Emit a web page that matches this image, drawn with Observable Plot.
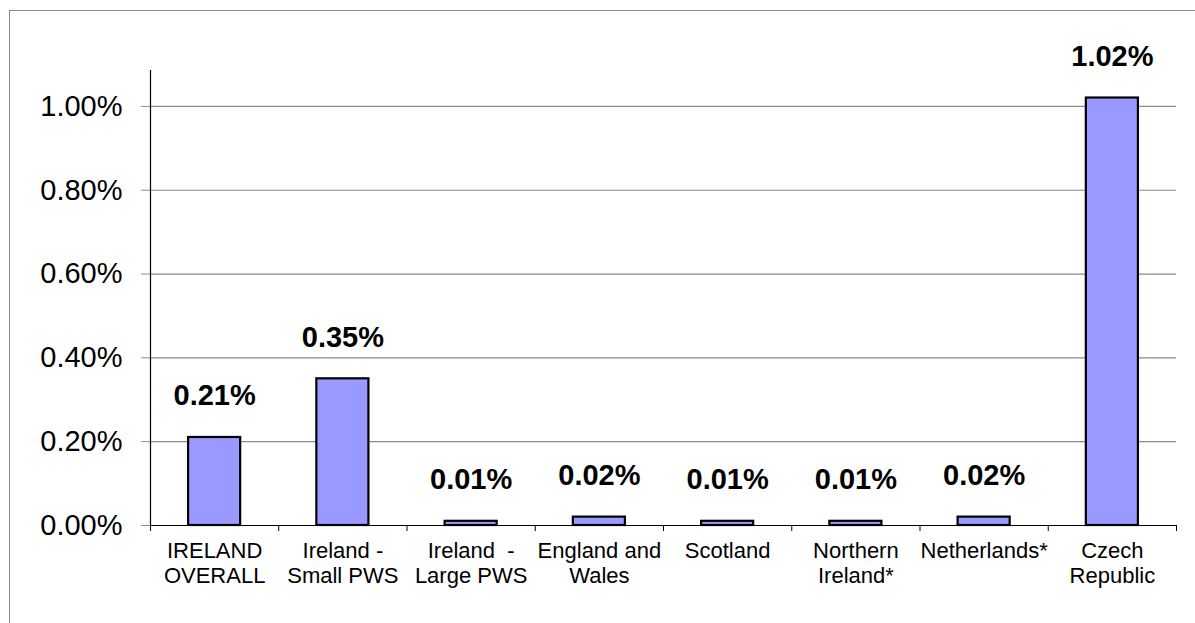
<!DOCTYPE html>
<html>
<head>
<meta charset="utf-8">
<script src="https://cdn.jsdelivr.net/npm/d3@7"></script>
<script src="https://cdn.jsdelivr.net/npm/@observablehq/plot@0.6"></script>
<style>
  html, body { margin: 0; padding: 0; background: #fff; overflow: hidden; }
  #wrap { position: relative; width: 1195px; height: 623px; }
  #border { position: absolute; left: 9px; top: 10px; width: 1200px; height: 640px; border: 1.5px solid #8a8a8a; box-sizing: border-box; }
  #chart { position: absolute; left: 0; top: 0; }
  svg { font-family: "Liberation Sans", Arial, Helvetica, sans-serif; }
</style>
</head>
<body>
<div id="wrap"><div id="border"></div><div id="chart"></div></div>
<script>
const categories = ["IRELAND\nOVERALL", "Ireland -\nSmall PWS", "Ireland  -\nLarge PWS", "England and\nWales", "Scotland", "Northern\nIreland*", "Netherlands*", "Czech\nRepublic"];
const values = [0.21, 0.35, 0.01, 0.02, 0.01, 0.01, 0.02, 1.02];
const yTicks = [0, 0.2, 0.4, 0.6, 0.8, 1.0];

const data = categories.map((c, i) => ({cat: c, i, v: values[i]}));
const bounds = d3.range(categories.length + 1);

const chart = Plot.plot({
  width: 1195,
  height: 623,
  marginLeft: 150,
  marginRight: 19,
  marginTop: 64,
  marginBottom: 98,
  style: {fontFamily: '"Liberation Sans", Arial, Helvetica, sans-serif', background: "transparent"},
  x: {domain: [0, categories.length], axis: null},
  y: {domain: [0, 1.1], axis: null},
  marks: [
    Plot.gridY(yTicks, {stroke: "#8a8a8a", strokeOpacity: 1, strokeWidth: 1.2}),
    Plot.axisY(yTicks, {tickSize: 9, tickPadding: 19, stroke: "#8a8a8a", fontSize: 29, fill: "#000", label: null,
      tickFormat: d => d.toFixed(2) + "%"}),
    Plot.rectY(data, {x1: d => d.i + 0.297, x2: d => d.i + 0.703, y: "v", fill: "#9999FF", stroke: "#000", strokeWidth: 2.2}),
    Plot.ruleY([0], {stroke: "#000", strokeWidth: 1.2}),
    Plot.ruleX([0], {y1: 0, y2: 1.1, stroke: "#000", strokeWidth: 1.2, insetBottom: -6}),
    Plot.ruleX(bounds, {y1: 0, y2: 0, stroke: "#000", strokeWidth: 1, insetBottom: -6}),
    Plot.text(data, {x: d => d.i + 0.5, y: 0, text: "cat", lineAnchor: "top", dy: 15, fontSize: 22, lineHeight: 25/22, fill: "#000"}),
    Plot.text(data, {x: d => d.i + 0.5, y: "v", text: d => d.v.toFixed(2) + "%", lineAnchor: "bottom", dy: -32, fontSize: 29, fontWeight: "bold", fill: "#000"})
  ]
});
document.getElementById("chart").appendChild(chart);
</script>
</body>
</html>
